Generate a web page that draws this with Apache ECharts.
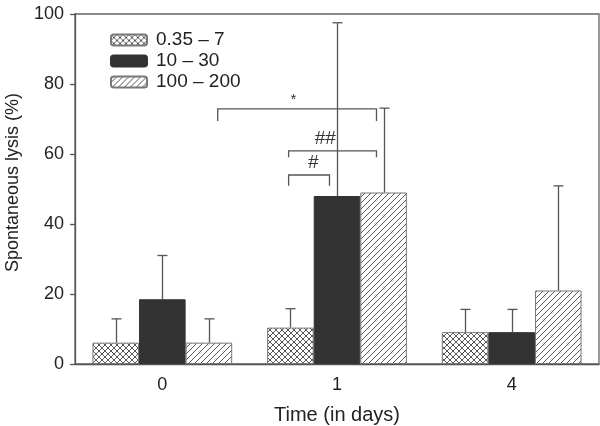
<!DOCTYPE html>
<html><head><meta charset="utf-8">
<script src="https://cdn.jsdelivr.net/npm/echarts@6/dist/echarts.min.js"></script>
<style>html,body{margin:0;padding:0;background:#fff}#c{width:600px;height:426px}</style>
</head><body><div id="c"></div>
<script>
// ---- data ----
const categories = ['0', '1', '4'];
const seriesNames = ['0.35 \u2013 7', '10 \u2013 30', '100 \u2013 200'];
const lowValues = [6.1, 10.4, 9.1];
const midValues = [18.5, 48.0, 9.1];
const highValues = [6.1, 49.0, 21.0];
const lowErrTop = [12.9, 15.8, 15.6];
const midErrTop = [31.0, 97.5, 15.6];
const highErrTop = [12.9, 73.1, 50.9];
const yTicks = [0, 20, 40, 60, 80, 100];
// significance brackets: [xStart, xEnd, yLine, yLegLeft, yLegRight, label, labelX] (x in category units)
const bracketStar = [0.317, 1.226, 72.9, 69.4, 69.4, '*', 0.751];
const bracketDouble = [0.723, 1.226, 60.9, 59.1, 59.1, '##', 0.931];
const bracketSingle = [0.723, 0.957, 54.0, 50.9, 50.9, '#', 0.863];

function makePattern(type) {
  const s = 6;
  const c = document.createElement('canvas');
  c.width = s; c.height = s;
  const g = c.getContext('2d');
  g.fillStyle = '#fff'; g.fillRect(0, 0, s, s);
  g.strokeStyle = '#444'; g.lineWidth = 0.9;
  g.beginPath();
  g.moveTo(-1, s + 1); g.lineTo(s + 1, -1);
  g.moveTo(-1 - s, s + 1); g.lineTo(1, -1);
  g.moveTo(s - 1, s + 1); g.lineTo(2 * s + 1, -1);
  if (type === 'cross') {
    g.moveTo(-1, -1); g.lineTo(s + 1, s + 1);
    g.moveTo(-1 - s, -1); g.lineTo(1, s + 1);
    g.moveTo(s - 1, -1); g.lineTo(2 * s + 1, s + 1);
  }
  g.stroke();
  return { image: c, repeat: 'repeat' };
}
const crossPat = makePattern('cross');
const hatchPat = makePattern('hatch');

const chart = echarts.init(document.getElementById('c'), null, { renderer: 'canvas' });
const font = 'Liberation Sans, Arial, Helvetica, sans-serif';
const BAR_FRAC = 0.8;

function errSeries(k, tops, errs) {
  return {
    type: 'custom', xAxisIndex: 0, yAxisIndex: 0, z: 1, silent: true,
    data: categories.map((c, i) => [i, tops[i], errs[i]]),
    renderItem: function (params, api) {
      const i = api.value(0);
      const base = api.coord([i, api.value(1)]);
      const top = api.coord([i, api.value(2)]);
      const bw = api.size([1, 0])[0];
      const barW = bw * BAR_FRAC / 3;
      const x = Math.round(base[0] + (k - 1) * barW) + 0.5;
      const st = { stroke: '#555', lineWidth: 1.3 };
      return { type: 'group', children: [
        { type: 'line', shape: { x1: x, y1: base[1], x2: x, y2: top[1] }, style: st },
        { type: 'line', shape: { x1: x - 5, y1: top[1], x2: x + 5, y2: top[1] }, style: st }
      ]};
    }
  };
}

const brackets = [bracketStar, bracketDouble, bracketSingle];

const option = {
  animation: false,
  backgroundColor: '#fff',
  textStyle: { fontFamily: font },
  grid: { left: 75, right: 1, top: 14, bottom: 62, show: true, borderColor: '#666', borderWidth: 1.3,
          containLabel: false, outerBoundsMode: 'none' },
  legend: {
    orient: 'vertical', left: 105, top: 25, itemWidth: 36, itemHeight: 11, itemGap: 1,
    selectedMode: false,
    data: seriesNames,
    textStyle: { fontSize: 19, color: '#222', fontFamily: font, padding: [0, 0, 0, 4], lineHeight: 20 }
  },
  xAxis: [{
    type: 'category', data: categories,
    name: 'Time (in days)', nameLocation: 'middle', nameGap: 41,
    nameTextStyle: { fontSize: 20, color: '#222' },
    axisLine: { lineStyle: { color: '#555', width: 1.3 } },
    axisTick: { alignWithLabel: true, length: 5, lineStyle: { color: '#555', width: 1.3 } },
    axisLabel: { fontSize: 18, color: '#222', margin: 12 }
  }, {
    type: 'value', min: -0.5, max: 2.5, show: false
  }],
  yAxis: {
    type: 'value', min: 0, max: 100, interval: 20,
    name: 'Spontaneous lysis (%)', nameLocation: 'middle', nameGap: 53, nameRotate: 90,
    nameTextStyle: { fontSize: 18, color: '#222', padding: [0, 0, 0, 13] },
    axisLine: { show: true, onZero: false, lineStyle: { color: '#555', width: 1.3 } },
    axisTick: { show: true, length: 5, lineStyle: { color: '#555', width: 1.3 } },
    axisLabel: { fontSize: 18, color: '#222', margin: 11 },
    splitLine: { show: false }
  },
  series: [
    { name: seriesNames[0], type: 'bar', data: lowValues, barGap: '0%', barCategoryGap: '20%', z: 2,
      itemStyle: { color: crossPat, borderColor: '#777', borderWidth: 1 } },
    { name: seriesNames[1], type: 'bar', data: midValues, barGap: '0%', barCategoryGap: '20%', z: 2,
      itemStyle: { color: '#333', borderColor: '#333', borderWidth: 1 } },
    { name: seriesNames[2], type: 'bar', data: highValues, barGap: '0%', barCategoryGap: '20%', z: 2,
      itemStyle: { color: hatchPat, borderColor: '#777', borderWidth: 1 } },
    errSeries(0, lowValues, lowErrTop),
    errSeries(1, midValues, midErrTop),
    errSeries(2, highValues, highErrTop),
    {
      type: 'custom', xAxisIndex: 1, yAxisIndex: 0, z: 3, silent: true,
      data: brackets,
      renderItem: function (params, api) {
        const b = brackets[params.dataIndex];
        const pL = api.coord([b[0], b[2]]);
        const pR = api.coord([b[1], b[2]]);
        const lL = api.coord([b[0], b[3]]);
        const lR = api.coord([b[1], b[4]]);
        const t = api.coord([b[6], b[2]]);
        const st = { stroke: '#555', lineWidth: 1.3, fill: null };
        const isHash = b[5] !== '*';
        return { type: 'group', children: [
          { type: 'polyline', shape: { points: [[lL[0], lL[1]], [pL[0], pL[1]], [pR[0], pR[1]], [lR[0], lR[1]]] }, style: st },
          { type: 'text', x: t[0], y: pL[1] - (isHash ? 3 : 1),
            style: { text: b[5], fontSize: isHash ? 19 : 15, fontStyle: isHash ? 'italic' : 'normal', fill: '#333',
                     textAlign: 'center', textVerticalAlign: 'bottom', fontFamily: font } }
        ]};
      }
    }
  ]
};
chart.setOption(option);
</script></body></html>
